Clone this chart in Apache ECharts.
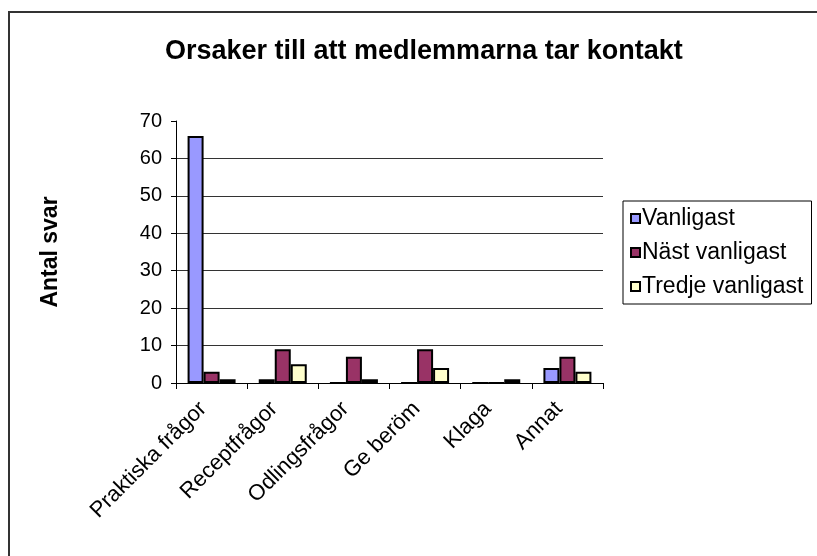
<!DOCTYPE html>
<html>
<head>
<meta charset="utf-8">
<script src="https://cdn.jsdelivr.net/npm/echarts@6/dist/echarts.min.js"></script>
<style>
	html, body { margin: 0; padding: 0; background: #fff; }
	#chart { width: 817px; height: 556px; }
</style>
</head>
<body>
<div id="chart"></div>
<script>
	// kategorier och svar
	var categories = ['Praktiska frågor', 'Receptfrågor', 'Odlingsfrågor', 'Ge beröm', 'Klaga', 'Annat'];
	var vanligast = [66, 1, 0, 0, 0, 4];
	var nastVanligast = [3, 9, 7, 9, 0, 7];
	var tredjeVanligast = [1, 5, 1, 4, 1, 3];
	var seriesNames = ['Vanligast', 'Näst vanligast', 'Tredje vanligast'];
	var seriesColors = ['#9999ff', '#993366', '#ffffcc'];

	var font = 'Liberation Sans, Arial, sans-serif';

	function bar(name, data, color) {
		return {
			name: name,
			type: 'bar',
			data: data,
			barWidth: 16,
			barGap: 0,
			itemStyle: { color: color, borderColor: '#000', borderWidth: 2 }
		};
	}

	var chart = echarts.init(document.getElementById('chart'));
	chart.setOption({
		animation: false,
		title: {
			text: 'Orsaker till att medlemmarna tar kontakt',
			left: 160,
			top: 33,
			textStyle: { fontFamily: font, fontSize: 27, fontWeight: 'bold', color: '#000' }
		},
		legend: {
			orient: 'vertical',
			left: 623,
			top: 201,
			padding: [6, 8, 6, 7],
			itemGap: 11,
			itemWidth: 9,
			itemHeight: 9,
			borderColor: '#000',
			borderWidth: 1,
			icon: 'rect',
			data: seriesNames,
			textStyle: { fontFamily: font, fontSize: 23, color: '#000', padding: [0, 0, 0, -3] }
		},
		grid: { left: 176, right: 214, top: 121, bottom: 173 },
		xAxis: {
			type: 'category',
			data: categories,
			axisLine: { lineStyle: { color: '#000', width: 1 } },
			axisTick: { show: true, length: 6, lineStyle: { color: '#000' } },
			axisLabel: {
				rotate: 45, margin: 14, interval: 0, padding: [0, 12, 0, 0],
				fontFamily: font, fontSize: 22, color: '#000'
			}
		},
		yAxis: {
			type: 'value',
			min: 0,
			max: 70,
			interval: 10,
			name: 'Antal svar',
			nameLocation: 'middle',
			nameGap: 114,
			nameTextStyle: { fontFamily: font, fontSize: 23, fontWeight: 'bold', color: '#000' },
			axisLine: { show: true, lineStyle: { color: '#000', width: 1 } },
			axisTick: { show: true, length: 5, lineStyle: { color: '#000' } },
			axisLabel: { margin: 14, fontFamily: font, fontSize: 20, color: '#000' },
			splitLine: {
				show: true,
				lineStyle: { color: ['#000', '#333', '#333', '#333', '#333', '#333', '#333', 'rgba(0,0,0,0)'], width: 1 }
			}
		},
		graphic: [
			{ type: 'line', shape: { x1: 8, y1: 12, x2: 817, y2: 12 }, style: { stroke: '#333', lineWidth: 2 } },
			{ type: 'line', shape: { x1: 9, y1: 11, x2: 9, y2: 556 }, style: { stroke: '#333', lineWidth: 2 } }
		],
		series: [
			bar(seriesNames[0], vanligast, seriesColors[0]),
			bar(seriesNames[1], nastVanligast, seriesColors[1]),
			bar(seriesNames[2], tredjeVanligast, seriesColors[2])
		]
	});
</script>
</body>
</html>
